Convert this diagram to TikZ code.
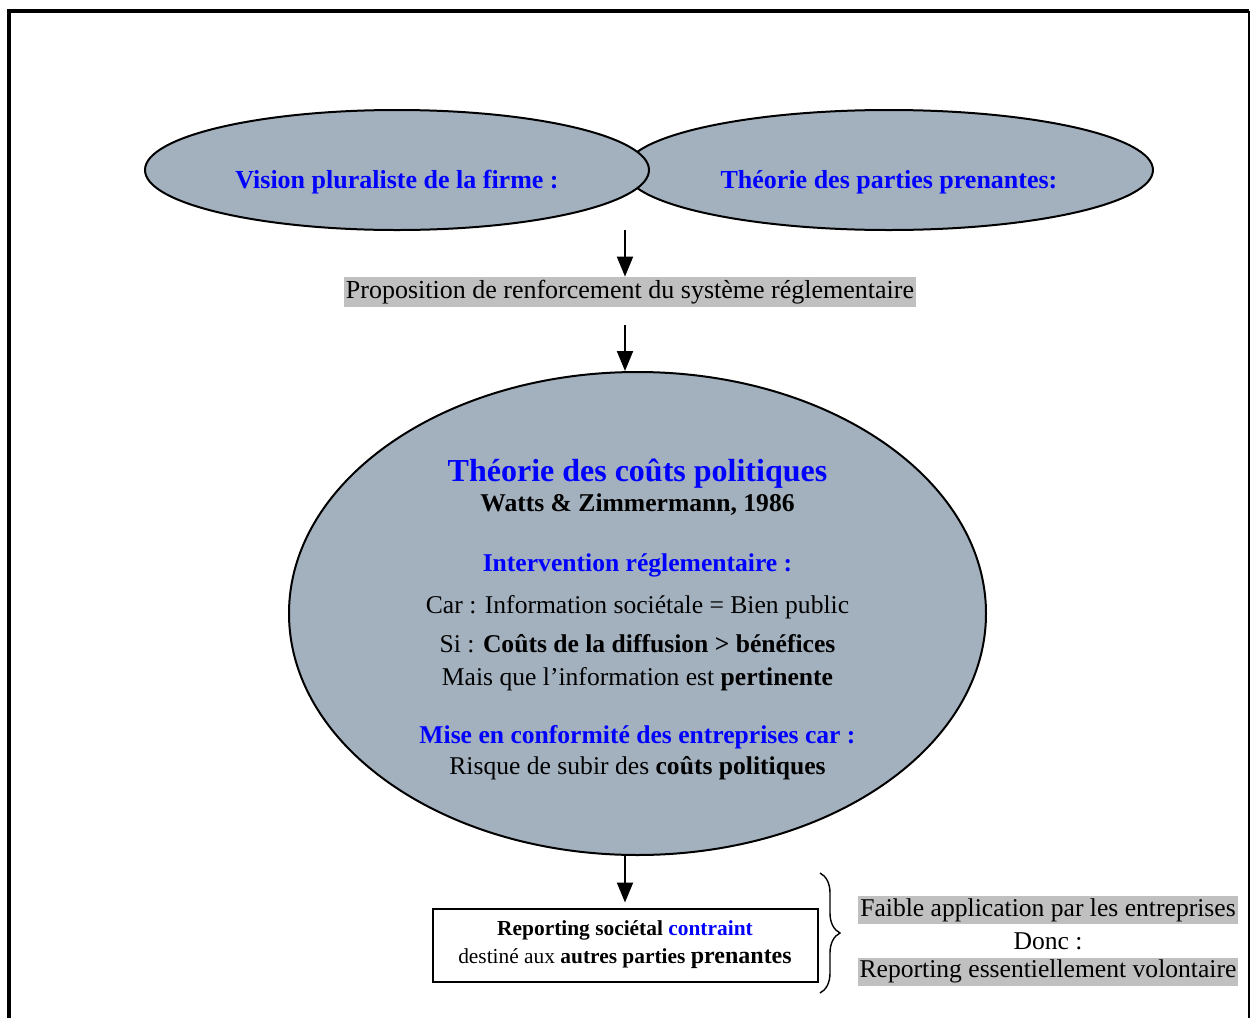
\documentclass[tikz,border=0pt]{standalone}
\usepackage{fontspec}
\setmainfont{Liberation Serif}
\usetikzlibrary{arrows.meta,shapes.geometric,decorations.pathreplacing,positioning}
\definecolor{ovalgray}{RGB}{163,177,191}
\definecolor{markgray}{RGB}{192,192,192}
\definecolor{headblue}{RGB}{0,0,255}

\begin{document}
\begin{tikzpicture}[x=0.5pt,y=-0.5pt,
		ovaltext/.style={text=headblue,font=\fontsize{13}{15}\selectfont\bfseries},
		marked/.style={fill=markgray,inner xsep=1pt,inner ysep=0pt,minimum height=14pt,font=\fontsize{12.8}{14}\selectfont}]
	\useasboundingbox (0,0) rectangle (1250,1018);
	% frame
	\draw[line width=2pt] (9,1020) -- (9,11) -- (1249,11);
	\draw[line width=0.6pt] (1249,11) -- (1249,1020);

		\begin{scope}[every node/.style={ellipse,draw,line width=1pt,fill=ovalgray,inner sep=0pt}]
			\node[minimum width=264pt,minimum height=60pt] (stake) at (889,170) {};
			\node[minimum width=252pt,minimum height=60pt] (vision) at (397,170) {};
			\node[minimum width=348.5pt,minimum height=241.5pt,align=center,
				font=\fontsize{12.8}{16.5}\selectfont] (costs) at (637.5,613.5) {%
				\rule{0pt}{17.5pt}{\fontsize{16}{16.5}\selectfont\bfseries\color{headblue}Théorie des coûts politiques}\\[-1.5pt]
				\textbf{Watts \& Zimmermann, 1986}\\[13.5pt]
				{\bfseries\color{headblue}Intervention réglementaire :}\\[4.5pt]
				Car : Information sociétale = Bien public\\[3pt]
				Si : \textbf{Coûts de la diffusion > bénéfices}\\
				Mais que l’information est \textbf{pertinente}\\[12.5pt]
				{\bfseries\color{headblue}Mise en conformité des entreprises car :}\\[-1pt]
				Risque de subir des \textbf{coûts politiques}};
		\end{scope}

		\node[ovaltext] (visiontxt) at (397,182) {Vision pluraliste de la firme :};
		\node[ovaltext] (staketxt) at (889,182) {Théorie des parties prenantes:};
		\node[marked,font=\fontsize{13}{14}\selectfont,minimum height=15pt] (propos) at (630,292)
			{Proposition de renforcement du système réglementaire};
		\node[draw,line width=1pt,minimum width=192.5pt,minimum height=36.5pt,align=center,
			font=\fontsize{10.7}{14}\selectfont] (report) at (625,945)
			{\textbf{Reporting sociétal} \textbf{\color{headblue}contraint}\\
			destiné aux \textbf{autres parties {\fontsize{12}{14}\selectfont prenantes}}};

		\node[marked] (faible) at (1048,910) {Faible application par les entreprises};
		\node[minimum height=14pt,inner sep=0pt,font=\fontsize{12.8}{14}\selectfont] (donc)
			[below=1pt of faible] {Donc :};
		\node[marked] (volont) [below=1pt of donc] {Reporting essentiellement volontaire};

		\coordinate (fork) at (625,230);
		\coordinate (bracetop) at (820,873);
		\coordinate (bracebot) at (820,993);

	\begin{scope}[>={Triangle[length=10pt,width=8pt]},
			every edge/.style={draw,line width=1pt}]
			\path [->] (fork) edge (propos.north -| fork);
			\path [->] (propos.south -| fork) edge[shorten <=9pt] (costs.north -| fork);
			\path [->] (costs.south -| fork) edge[shorten >=2.5pt] (report.north -| fork);
		\end{scope}
		\draw[line width=0.7pt,decorate,decoration={brace,amplitude=10pt}] (bracetop) -- (bracebot);
	\end{tikzpicture}
\end{document}
